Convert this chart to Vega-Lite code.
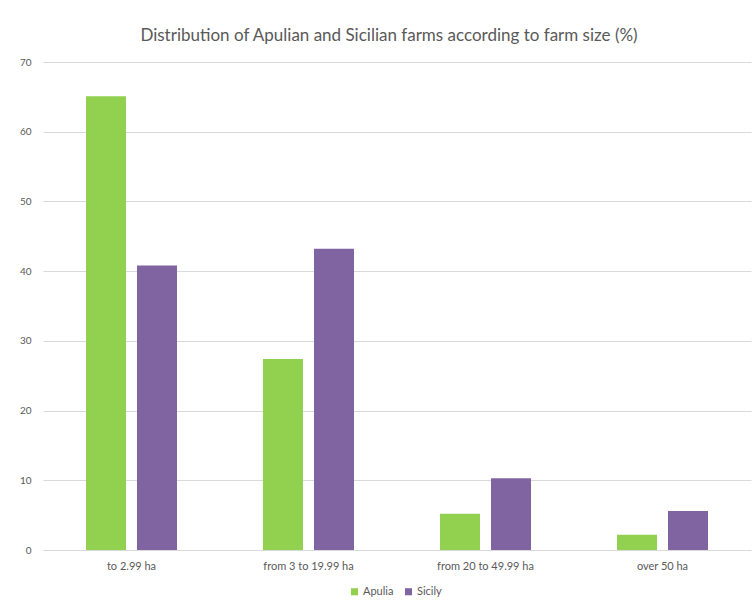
{
  "$schema": "https://vega.github.io/schema/vega-lite/v6.json",
  "width": 708,
  "height": 488,
  "autosize": {"type": "none"},
  "padding": {"left": 43, "top": 62, "right": 1, "bottom": 54},
  "background": "white",
  "title": {
    "text": "Distribution of Apulian and Sicilian farms according to farm size (%)",
    "font": "Lato",
    "fontSize": 17,
    "fontWeight": "normal",
    "color": "#595959",
    "anchor": "middle",
    "dx": -8,
    "offset": 12
  },
  "data": {
    "values": [
      {"size": "to 2.99 ha", "region": "Apulia", "value": 65.1},
      {"size": "to 2.99 ha", "region": "Sicily", "value": 40.8},
      {"size": "from 3 to 19.99 ha", "region": "Apulia", "value": 27.4},
      {"size": "from 3 to 19.99 ha", "region": "Sicily", "value": 43.2},
      {"size": "from 20 to 49.99 ha", "region": "Apulia", "value": 5.2},
      {"size": "from 20 to 49.99 ha", "region": "Sicily", "value": 10.3},
      {"size": "over 50 ha", "region": "Apulia", "value": 2.2},
      {"size": "over 50 ha", "region": "Sicily", "value": 5.6}
    ]
  },
  "mark": {"type": "bar"},
  "encoding": {
    "x": {
      "field": "size",
      "type": "nominal",
      "sort": ["to 2.99 ha", "from 3 to 19.99 ha", "from 20 to 49.99 ha", "over 50 ha"],
      "scale": {"paddingInner": 0, "paddingOuter": 0},
      "axis": {
        "title": null,
        "labelAngle": 0,
        "domain": false,
        "ticks": false,
        "labelPadding": 10,
        "labelFont": "Lato",
        "labelFontSize": 11,
        "labelColor": "#595959"
      }
    },
    "xOffset": {
      "field": "region",
      "type": "nominal",
      "scale": {"paddingInner": 0.2157, "paddingOuter": 0.843}
    },
    "y": {
      "field": "value",
      "type": "quantitative",
      "scale": {"domain": [0, 70]},
      "axis": {
        "title": null,
        "values": [0, 10, 20, 30, 40, 50, 60, 70],
        "domain": false,
        "ticks": false,
        "labelPadding": 12,
        "labelFont": "Lato",
        "labelFontSize": 10,
        "labelColor": "#595959",
        "gridColor": "#d9d9d9",
        "gridWidth": 1
      }
    },
    "color": {
      "field": "region",
      "type": "nominal",
      "scale": {"domain": ["Apulia", "Sicily"], "range": ["#92D050", "#8064A2"]},
      "legend": {
        "title": null,
        "orient": "none",
        "legendX": 306,
        "legendY": 524,
        "direction": "horizontal",
        "symbolType": "square",
        "symbolSize": 50,
        "symbolStrokeWidth": 0,
        "labelFont": "Lato",
        "labelFontSize": 11,
        "labelColor": "#595959",
        "labelOffset": 3,
        "columnPadding": 9
      }
    }
  },
  "config": {
    "view": {"stroke": null}
  }
}
